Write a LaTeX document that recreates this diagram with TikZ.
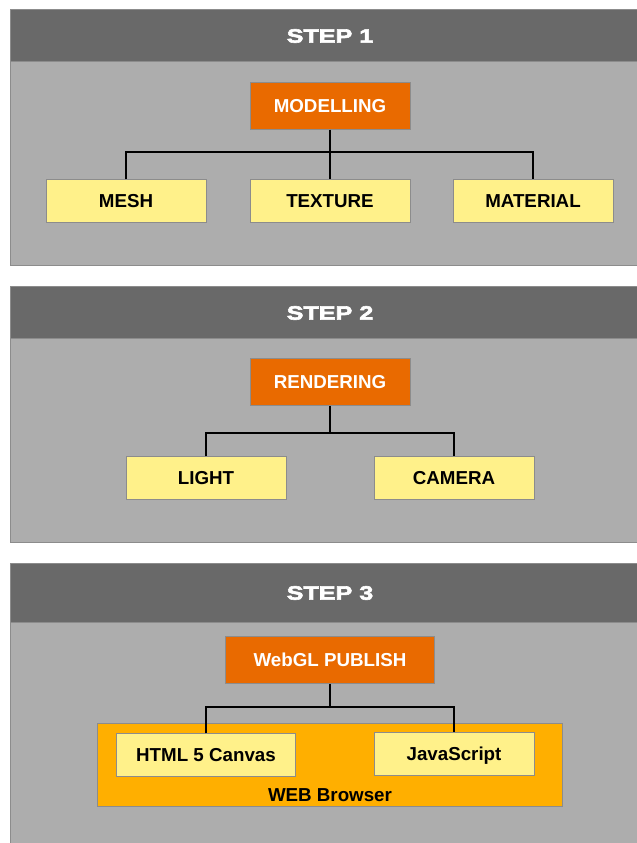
\documentclass[tikz,border=0pt]{standalone}
\usepackage{fontspec}
\setmainfont{Liberation Sans}
\newfontfamily\stepfont[FakeBold=3, FakeStretch=1.3]{Liberation Sans Bold}
\usetikzlibrary{positioning}

\definecolor{headgray}{HTML}{696969}
\definecolor{bodygray}{HTML}{ADADAD}
\definecolor{edgegray}{HTML}{8C8C8C}
\definecolor{taskorange}{HTML}{E96A00}
\definecolor{itemyellow}{HTML}{FFF18A}
\definecolor{browserorange}{HTML}{FFAF00}

\begin{document}
\begin{tikzpicture}[x=0.03cm, y=-0.03cm]
      \tikzstyle{panel} = [draw=edgegray, fill=bodygray, line width=0.6pt]
      \tikzstyle{header} = [draw=edgegray, fill=headgray, line width=0.6pt]
      \tikzstyle{steptitle} = [text=white, font=\stepfont\fontsize{16.5}{20}\selectfont]
      \tikzstyle{task} = [rectangle, minimum width=4.8cm, minimum height=1.41cm, text centered, draw=edgegray, fill=taskorange, text=white, font=\bfseries\fontsize{16}{19}\selectfont]
      \tikzstyle{item} = [rectangle, minimum width=4.8cm, minimum height=1.29cm, text height=11.5pt, text depth=0pt, text centered, draw=edgegray, fill=itemyellow, text=black, font=\bfseries\fontsize{16}{19}\selectfont]
      \tikzstyle{link} = [line width=1.6pt, black]

      \useasboundingbox (0,0) rectangle (636,843);

      % step 1
      \fill [panel] (10,9) rectangle (650,265);
      \fill [header] (10,9) rectangle (650,61);
      \node (step1) [steptitle] at (330,36) {STEP 1};
      \node (modelling) [task] at (330,106) {MODELLING};
      \node (mesh) [item] at (126,201) {MESH};
      \node (texture) [item] at (330,201) {TEXTURE};
      \node (material) [item] at (533,201) {MATERIAL};
      \coordinate (bus1) at (330,152);

      \draw [link] (modelling.south) -- (bus1) -- (texture.north);
      \draw [link] (mesh.north) |- (bus1) -| (material.north);

      % step 2
      \fill [panel] (10,286) rectangle (650,542);
      \fill [header] (10,286) rectangle (650,338);
      \node (step2) [steptitle] at (330,313) {STEP 2};
      \node (rendering) [task] at (330,382) {RENDERING};
      \node (light) [item] at (206,478) {LIGHT};
      \node (camera) [item] at (454,478) {CAMERA};
      \coordinate (bus2) at (330,433);

      \draw [link] (rendering.south) -- (bus2);
      \draw [link] (light.north) |- (bus2) -| (camera.north);

      % step 3
      \fill [panel] (10,563) rectangle (650,850);
      \fill [header] (10,563) rectangle (650,622);
      \node (step3) [steptitle] at (330,593) {STEP 3};
      \node (publish) [task, minimum width=6.27cm] at (330,660) {WebGL PUBLISH};
      \node (browser) [rectangle, draw=edgegray, fill=browserorange, minimum width=13.95cm, minimum height=2.49cm] at (329.5,764.5) {};
      \node (canvas) [item, minimum width=5.37cm] at (206,755) {HTML 5 Canvas};
      \node (script) [item] at (454,754) {JavaScript};
      \node (browserlabel) [font=\bfseries\fontsize{16}{19}\selectfont] at (330,795) {WEB Browser};
      \coordinate (bus3) at (330,707);

      \draw [link] (publish.south) -- (bus3);
      \draw [link] (canvas.north) |- (bus3) -| (script.north);
    \end{tikzpicture}
\end{document}
